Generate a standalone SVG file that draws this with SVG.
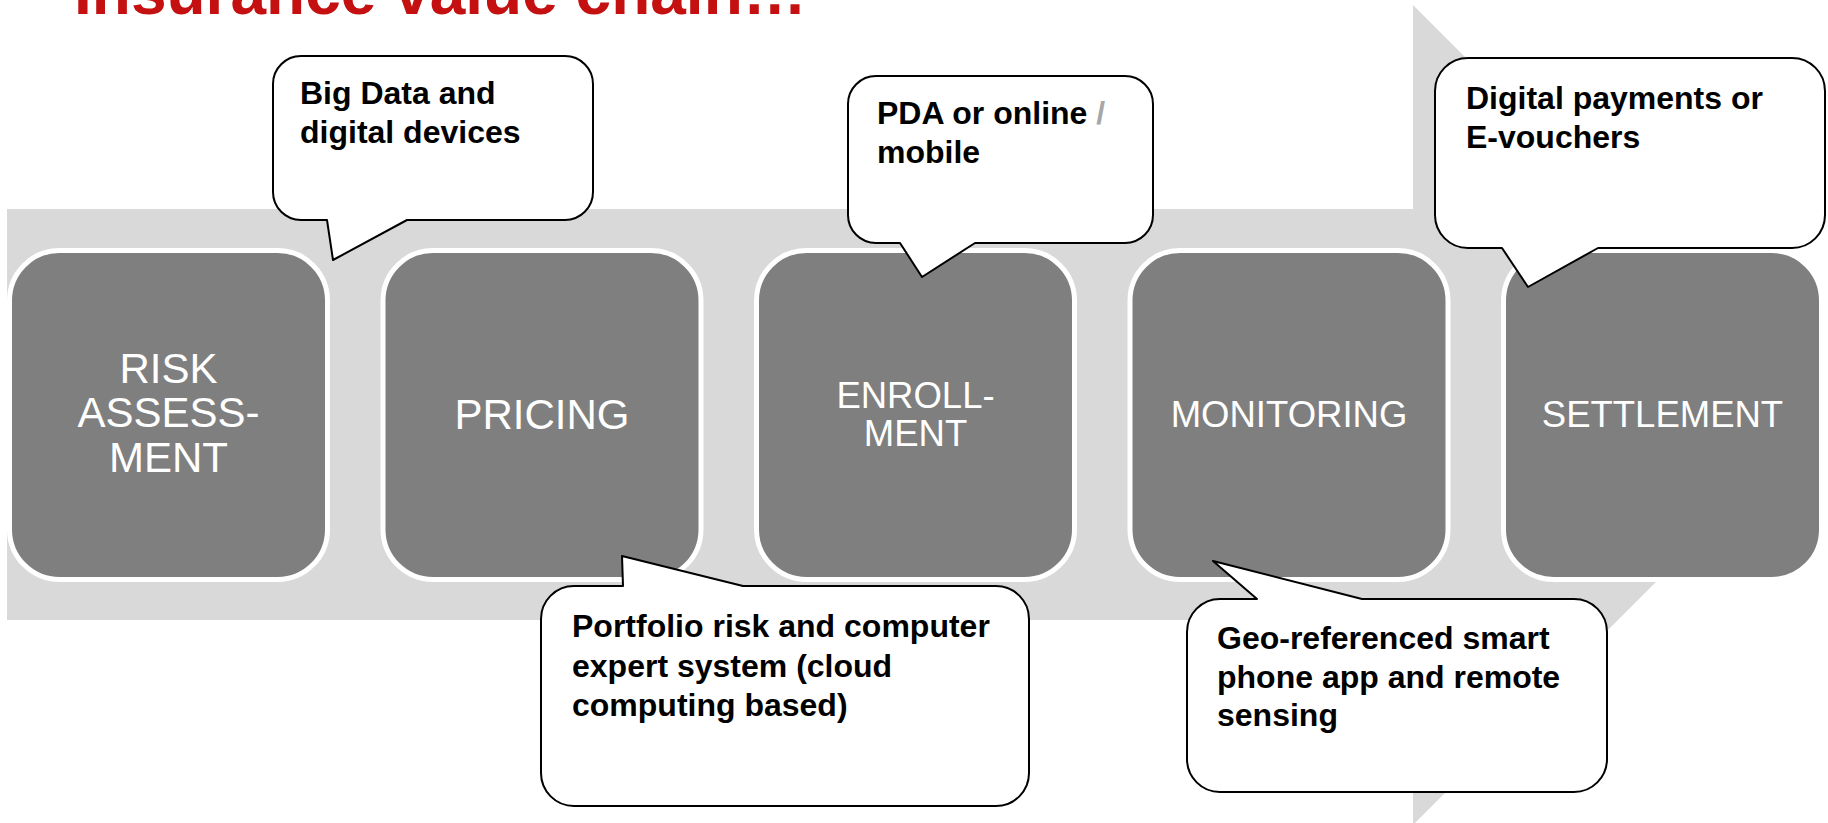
<svg xmlns="http://www.w3.org/2000/svg" width="1828" height="823" viewBox="0 0 1828 823">
  <style>
    .title { font-family: "Liberation Sans", Arial, sans-serif; font-weight: bold; font-size: 64px; fill: #C41010; }
    .band { fill: #D9D9D9; }
    .step rect { fill: #7F7F7F; stroke: #FFFFFF; stroke-width: 5; }
    .step text { font-family: "Liberation Sans", Arial, sans-serif; fill: #FFFFFF; text-anchor: middle; }
    .big { font-size: 42px; }
    .mid { font-size: 36.5px; }
    .callout path { fill: #FFFFFF; stroke: #000000; stroke-width: 2; stroke-linejoin: round; }
    .callout text { font-family: "Liberation Sans", Arial, sans-serif; font-weight: bold; font-size: 32px; fill: #000000; }
    .dim { fill: #A6A6A6; }
  </style>

  <text class="title" x="74" y="14">Insurance value chain…</text>

  <!-- chevron band behind the steps -->
  <path class="band" d="M7,209 H1413 V5 L1823,415 L1413,825 V620 H7 Z"/>

  <g id="risk-assessment" class="step">
    <rect x="9.5" y="250.5" width="318" height="329" rx="50"/>
    <text class="big" x="168.5" y="383">RISK</text>
    <text class="big" x="168.5" y="427">ASSESS-</text>
    <text class="big" x="168.5" y="472">MENT</text>
  </g>
  <g id="pricing" class="step">
    <rect x="383" y="250.5" width="318" height="329" rx="50"/>
    <text class="big" x="542" y="429">PRICING</text>
  </g>
  <g id="enrollment" class="step">
    <rect x="756.5" y="250.5" width="318" height="329" rx="50"/>
    <text class="mid" x="915.5" y="408">ENROLL-</text>
    <text class="mid" x="915.5" y="446">MENT</text>
  </g>
  <g id="monitoring" class="step">
    <rect x="1130" y="250.5" width="318" height="329" rx="50"/>
    <text class="mid" x="1289" y="427">MONITORING</text>
  </g>
  <g id="settlement" class="step">
    <rect x="1503.5" y="250.5" width="318" height="329" rx="50"/>
    <text class="mid" x="1662.5" y="427">SETTLEMENT</text>
  </g>

  <g id="callout-big-data" class="callout">
    <path d="M301,56 H565 A28,28 0 0 1 593,84 V192 A28,28 0 0 1 565,220 H407 L333,260 L327,220 H301 A28,28 0 0 1 273,192 V84 A28,28 0 0 1 301,56 Z"/>
    <text x="300" y="104">Big Data and</text>
    <text x="300" y="143">digital devices</text>
  </g>
  <g id="callout-pda" class="callout">
    <path d="M876,76 H1125 A28,28 0 0 1 1153,104 V215 A28,28 0 0 1 1125,243 H975 L922,277 L900,243 H876 A28,28 0 0 1 848,215 V104 A28,28 0 0 1 876,76 Z"/>
    <text x="877" y="124">PDA or online <tspan class="dim">/</tspan></text>
    <text x="877" y="163">mobile</text>
  </g>
  <g id="callout-payments" class="callout">
    <path d="M1468,58 H1792 A33,33 0 0 1 1825,91 V215 A33,33 0 0 1 1792,248 H1598 L1528,287 L1502,248 H1468 A33,33 0 0 1 1435,215 V91 A33,33 0 0 1 1468,58 Z"/>
    <text x="1466" y="109">Digital payments or</text>
    <text x="1466" y="148">E-vouchers</text>
  </g>
  <g id="callout-portfolio" class="callout">
    <path d="M574,586 H623 L622,556 L743,586 H996 A33,33 0 0 1 1029,619 V773 A33,33 0 0 1 996,806 H574 A33,33 0 0 1 541,773 V619 A33,33 0 0 1 574,586 Z"/>
    <text x="572" y="637">Portfolio risk and computer</text>
    <text x="572" y="677">expert system (cloud</text>
    <text x="572" y="716">computing based)</text>
  </g>
  <g id="callout-geo" class="callout">
    <path d="M1220,599 H1257 L1213,561 L1362,599 H1574 A33,33 0 0 1 1607,632 V759 A33,33 0 0 1 1574,792 H1220 A33,33 0 0 1 1187,759 V632 A33,33 0 0 1 1220,599 Z"/>
    <text x="1217" y="649">Geo-referenced smart</text>
    <text x="1217" y="688">phone app and remote</text>
    <text x="1217" y="726">sensing</text>
  </g>

  <g id="connectors"/>
</svg>
